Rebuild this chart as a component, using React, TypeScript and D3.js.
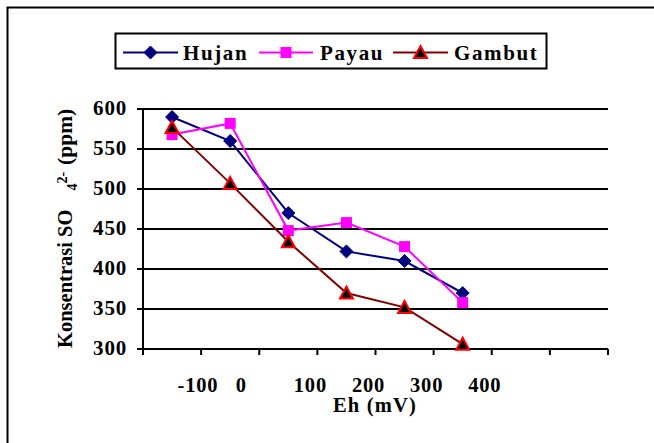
import React from "react";
import * as d3 from "d3";

const categories = ["-100", "0", "100", "200", "300", "400", "", ""];
const hujan = [590, 560, 470, 422, 410, 370];
const payau = [568, 582, 448, 458, 428, 358];
const gambut = [577, 507, 434, 370, 352, 306];
const yTicks = [300, 350, 400, 450, 500, 550, 600];

const W = 654;
const H = 443;
const plot = { left: 143, right: 608, top: 109, bottom: 349 };

const FONT = "'Liberation Serif', 'Times New Roman', serif";

export default function App() {
  const x = d3
    .scaleBand<number>()
    .domain(d3.range(categories.length))
    .range([plot.left, plot.right])
    .paddingInner(0)
    .paddingOuter(0);
  const bw = x.bandwidth();
  const cx = (i: number) => (x(i) as number) + bw / 2;
  const y = d3.scaleLinear().domain([300, 600]).range([plot.bottom, plot.top]);

  const line = d3
    .line<number>()
    .x((_, i) => cx(i))
    .y((d) => y(d));

  const series = [
    { name: "Hujan", data: hujan, color: "#000080", marker: "diamond" },
    { name: "Payau", data: payau, color: "#FF00FF", marker: "square" },
    { name: "Gambut", data: gambut, color: "#800000", marker: "triangle" },
  ];

  const marker = (type: string, px: number, py: number, key: string) => {
    if (type === "diamond") {
      const s = 6.5;
      return (
        <path
          key={key}
          d={`M${px},${py - s}L${px + s},${py}L${px},${py + s}L${px - s},${py}Z`}
          fill="#000080"
          stroke="#000080"
          strokeWidth={1}
        />
      );
    }
    if (type === "square") {
      const s = 5.5;
      return (
        <rect key={key} x={px - s} y={py - s} width={2 * s} height={2 * s} fill="#FF00FF" />
      );
    }
    const s = 6.5;
    return (
      <path
        key={key}
        d={`M${px},${py - s}L${px + s},${py + s * 0.85}L${px - s},${py + s * 0.85}Z`}
        fill="#000000"
        stroke="#FF0000"
        strokeWidth={2}
        strokeLinejoin="miter"
      />
    );
  };

  const ticksX = d3.range(categories.length + 1).map((i) =>
    i < categories.length ? (x(i) as number) : plot.right
  );

  const legendItems = [
    { s: series[0], lx1: 123, lx2: 178, tx: 183 },
    { s: series[1], lx1: 259, lx2: 313, tx: 320 },
    { s: series[2], lx1: 393, lx2: 448, tx: 454 },
  ];
  const legendY = 52.5;

  return (
    <svg
      width={W}
      height={H}
      style={{ position: "absolute", left: 0, top: 0, background: "#fff" }}
      fontFamily={FONT}
    >
      <rect x={0} y={0} width={W} height={H} fill="#fff" />
      <rect x={7.5} y={7.5} width={W + 10} height={H + 10} fill="none" stroke="#000" strokeWidth={2} />

      {/* legend */}
      <rect x={115.5} y={33.5} width={431} height={35} fill="#fff" stroke="#000" strokeWidth={2} />
      {legendItems.map((it) => (
        <g key={it.s.name}>
          <line x1={it.lx1} x2={it.lx2} y1={legendY} y2={legendY} stroke={it.s.color} strokeWidth={2} />
          {marker(it.s.marker, (it.lx1 + it.lx2) / 2, legendY, "lm" + it.s.name)}
          <text
            x={it.tx}
            y={legendY + 7.5}
            fontSize={21}
            fontWeight="bold"
            letterSpacing={1.6}
            fill="#000"
          >
            {it.s.name}
          </text>
        </g>
      ))}

      {/* gridlines */}
      {yTicks.map((t) => (
        <line
          key={"g" + t}
          x1={plot.left - 6}
          x2={plot.right}
          y1={y(t)}
          y2={y(t)}
          stroke="#000"
          strokeWidth={2}
        />
      ))}
      {/* y axis */}
      <line x1={plot.left} x2={plot.left} y1={plot.top} y2={plot.bottom} stroke="#000" strokeWidth={2} />
      {yTicks.map((t) => (
        <text
          key={"yl" + t}
          x={127}
          y={y(t) + 1}
          textAnchor="end"
          dominantBaseline="middle"
          fontSize={21}
          fontWeight="bold"
          letterSpacing={0.8}
        >
          {t}
        </text>
      ))}
      {/* x axis ticks */}
      {ticksX.map((tx, i) => (
        <line key={"xt" + i} x1={tx} x2={tx} y1={plot.bottom} y2={plot.bottom + 6} stroke="#000" strokeWidth={2} />
      ))}
      {categories.map((c, i) =>
        c ? (
          <text
            key={"xl" + i}
            x={cx(i) + 5.5}
            y={392}
            textAnchor="start"
            fontSize={20.5}
            fontWeight="bold"
            letterSpacing={0.8}
          >
            {c}
          </text>
        ) : null
      )}
      <text x={375} y={412} textAnchor="middle" fontSize={20.5} fontWeight="bold" letterSpacing={1.2}>
        Eh (mV)
      </text>
      <text
        transform={`translate(72,348) rotate(-90)`}
        fontSize={20.5}
        fontWeight="bold"
        textAnchor="start"
      >
        <tspan>Konsentrasi SO</tspan>
        <tspan dx={19} dy={5} fontSize={14}>4</tspan>
        <tspan dy={-10} fontSize={14}>2-</tspan>
        <tspan dy={5} dx={7} fontSize={21.5}>(ppm)</tspan>
      </text>

      {/* series */}
      {series.map((s) => (
        <g key={s.name}>
          <path d={line(s.data) || ""} fill="none" stroke={s.color} strokeWidth={2} />
          {s.data.map((v, i) => marker(s.marker, cx(i), y(v), s.name + i))}
        </g>
      ))}
    </svg>
  );
}
